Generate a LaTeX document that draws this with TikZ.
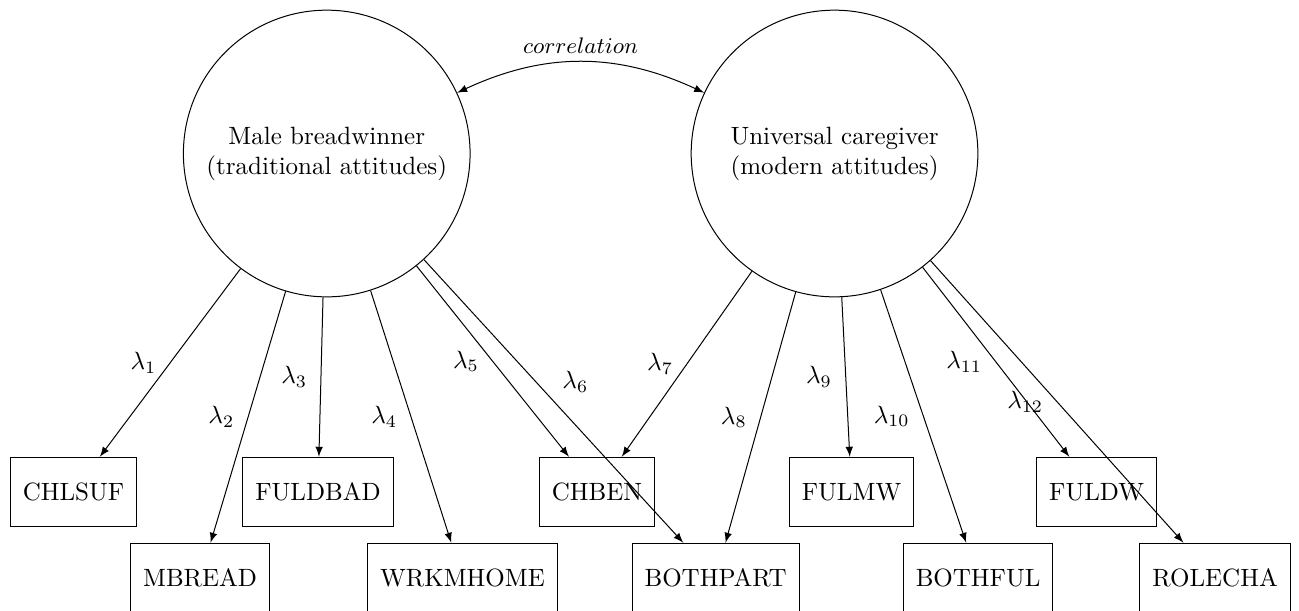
\documentclass[tikz,border=0pt]{standalone}
\usepackage{amsmath}
\usepackage{tikz}

\begin{document}
\begin{tikzpicture}[
  latent/.style={draw, circle, minimum size=4.03cm, align=center},
  manifest/.style={draw, rectangle, minimum height=27.8pt, inner xsep=5pt},
  load/.style={->, >=latex},
  lab/.style={midway, left=2pt}
]
\useasboundingbox (0, 0) rectangle (18.26, -8.575);
\node[latent] (mb) at (4.593, -2.158) {Male breadwinner\\(traditional attitudes)};
\node[latent] (uc) at (11.731, -2.158) {Universal caregiver\\(modern attitudes)};
\node[manifest] (chlsuf) at (1.033, -6.917) {CHLSUF};
\node[manifest] (fuldbad) at (4.470, -6.917) {FULDBAD};
\node[manifest] (chben) at (8.393, -6.917) {CHBEN};
\node[manifest] (fulmw) at (11.970, -6.917) {FULMW};
\node[manifest] (fuldw) at (15.415, -6.917) {FULDW};
\node[manifest] (mbread) at (2.812, -8.125) {MBREAD};
\node[manifest] (wrkmhome) at (6.502, -8.125) {WRKMHOME};
\node[manifest] (bothpart) at (10.059, -8.125) {BOTHPART};
\node[manifest] (bothful) at (13.749, -8.125) {BOTHFUL};
\node[manifest] (rolecha) at (17.080, -8.125) {ROLECHA};
\draw[<->, >=latex] (mb.25) to[bend left=25]
  node[above] {\small $correlation$} (uc.155);
\draw[load] (mb) -- (chlsuf) node[lab] {$\lambda_1$};
\draw[load] (mb) -- (mbread) node[lab] {$\lambda_2$};
\draw[load] (mb) -- (fuldbad) node[lab] {$\lambda_3$};
\draw[load] (mb) -- (wrkmhome) node[lab] {$\lambda_4$};
\draw[load] (mb) -- (chben) node[lab] {$\lambda_5$};
\draw[load] (mb) -- (bothpart) node[midway, above right] {$\lambda_6$};
\draw[load] (uc) -- (chben) node[lab] {$\lambda_7$};
\draw[load] (uc) -- (bothpart) node[lab] {$\lambda_8$};
\draw[load] (uc) -- (fulmw) node[lab] {$\lambda_9$};
\draw[load] (uc) -- (bothful) node[lab] {$\lambda_{10}$};
\draw[load] (uc) -- (fuldw) node[lab] {$\lambda_{11}$};
\draw[load] (uc) -- (rolecha) node[lab] {$\lambda_{12}$};
\end{tikzpicture}
\end{document}
